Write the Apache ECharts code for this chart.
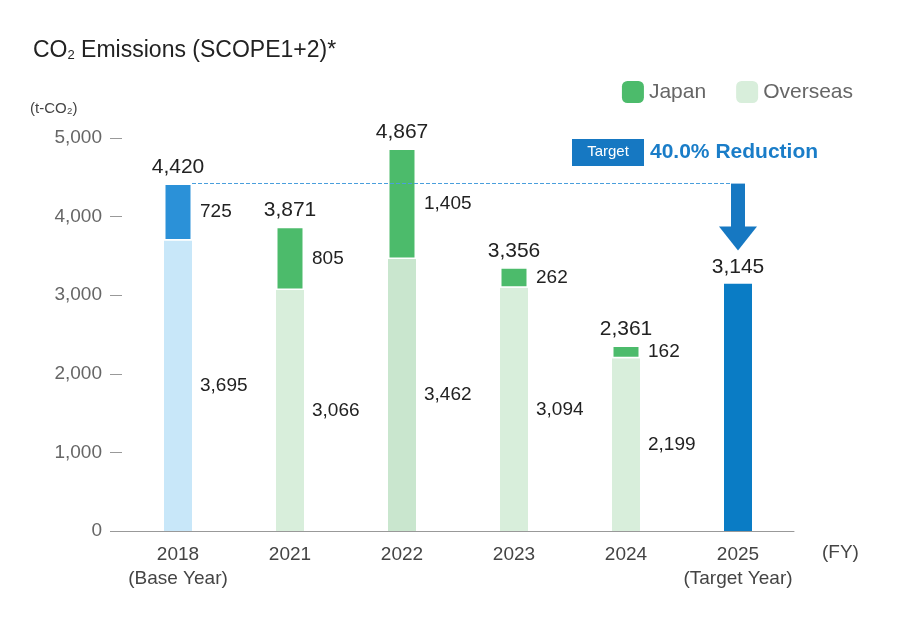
<!DOCTYPE html>
<html><head><meta charset="utf-8">
<script src="https://cdn.jsdelivr.net/npm/echarts@6/dist/echarts.min.js"></script>
<style>body{margin:0}#c{width:900px;height:620px}</style></head>
<body><div id="c"></div>
<script>
const categories = ['2018\n(Base Year)','2021','2022','2023','2024','2025\n(Target Year)'];
const overseas = [3695, 3066, 3462, 3094, 2199, null];
const japan = [725, 805, 1405, 262, 162, null];
const totals = [4420, 3871, 4867, 3356, 2361, 3145];
const target = [null, null, null, null, null, 3145];
const baseValue = 4420;
const arrowEnd = 3720;
const F = 'Liberation Sans, Arial, sans-serif';
const fmt = v => v.toLocaleString('en-US');
const chart = echarts.init(document.getElementById('c'));
const ovCol = ['#c8e7f9','#d8eedb','#c9e6ce','#d8eedb','#d8eedb'];
const jpCol = ['#2b91d8','#4cbb6b','#4cbb6b','#4cbb6b','#4cbb6b'];
chart.setOption({
  animation:false,
  textStyle:{fontFamily:F},
  title:{text:'CO{s|2} Emissions (SCOPE1+2)*',left:28,top:34,
    textStyle:{fontSize:23,fontWeight:'normal',color:'#222',fontFamily:F,rich:{s:{fontSize:13,verticalAlign:'bottom',padding:[10,0,0,0],color:'#222'}}}},
  legend:{right:42,top:76,itemWidth:22,itemHeight:22,itemGap:30,textStyle:{fontSize:21,color:'#666'},data:['Japan','Overseas'],selectedMode:false},
  grid:{left:122,right:106,top:138,bottom:89},
  xAxis:{type:'category',data:categories,axisTick:{show:false},
    axisLine:{lineStyle:{color:'#999'}},
    axisLabel:{interval:0,fontSize:19,color:'#444',lineHeight:24,margin:12}},
  yAxis:{type:'value',min:0,max:5000,interval:1000,splitLine:{show:false},
    name:'(t-CO₂)',nameLocation:'end',nameGap:22,nameTextStyle:{fontSize:15,color:'#444',align:'left',padding:[0,0,0,-92]},
    axisLine:{show:false},axisTick:{show:true,length:12,inside:false,lineStyle:{color:'#999'}},
    axisLabel:{fontSize:19,color:'#666',margin:20,formatter:v=>fmt(v)}},
  graphic:[
    {type:'rect',shape:{x:572,y:139,width:72,height:27},style:{fill:'#1678c2'}},
    {type:'text',x:608,y:152,style:{text:'Target',fill:'#fff',fontSize:15,align:'center',verticalAlign:'middle',fontFamily:F}},
    {type:'text',x:650,y:152,style:{text:'40.0% Reduction',fill:'#1a7dc8',fontSize:21,fontWeight:'bold',verticalAlign:'middle',fontFamily:F}},
    {type:'text',x:822,y:543,style:{text:'(FY)',fill:'#444',fontSize:19,fontFamily:F}}
  ],
  series:[
    {name:'Overseas',type:'bar',stack:'a',barWidth:28,color:'#d8eedb',
     data:overseas.map((v,i)=>v==null?null:{value:v,itemStyle:{color:ovCol[i]}}),
     label:{show:true,position:'right',distance:8,fontSize:19,color:'#222',formatter:p=>fmt(p.value)}},
    {name:'Japan',type:'bar',stack:'a',barWidth:28,color:'#4cbb6b',
     data:japan.map((v,i)=>v==null?null:{value:v,itemStyle:{color:jpCol[i],borderColor:'#fff',borderWidth:1.5}}),
     label:{show:true,position:'right',distance:8,fontSize:19,color:'#222',formatter:p=>fmt(p.value)}},
    {name:'tot',type:'bar',stack:'a',barWidth:28,data:totals.map((v,i)=>i<5?0:null),
     label:{show:true,position:'top',distance:6,fontSize:21,color:'#222',formatter:p=>fmt(totals[p.dataIndex])},
     itemStyle:{color:'transparent'}},
    {name:'Target',type:'bar',stack:'a',barWidth:28,data:target,itemStyle:{color:'#0a7cc5'},
     label:{show:true,position:'top',distance:6,fontSize:21,color:'#222',formatter:p=>fmt(p.value)},
     markLine:{silent:true,symbol:['none','none'],label:{show:false},
       data:[
        [{coord:[0,baseValue],x:192,lineStyle:{type:'dashed',color:'#4a9fdc',width:1}},{coord:[5,baseValue],x:730}],
       ]}},
    {name:'arrow',type:'line',data:[],markLine:{silent:true,symbol:['none','triangle'],symbolSize:[38,24],label:{show:false},
       lineStyle:{type:'solid',color:'#1678c2',width:14},
       data:[[{coord:[5,baseValue]},{coord:[5,arrowEnd]}]]}}
  ]
});
</script></body></html>
